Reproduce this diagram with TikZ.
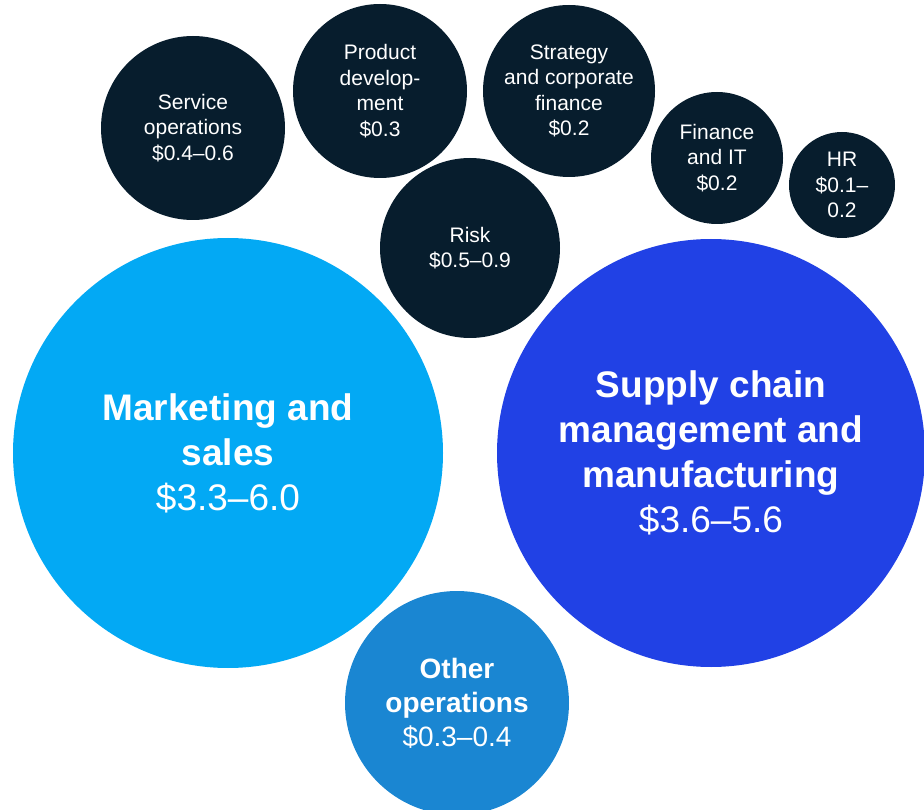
\documentclass[tikz,border=0pt]{standalone}
\usepackage{fontspec}
\setmainfont{Liberation Sans}
\definecolor{navy}{HTML}{071D2D}
\definecolor{skyblue}{HTML}{03A9F4}
\definecolor{royal}{HTML}{2141E5}
\definecolor{midblue}{HTML}{1A86D2}
\tikzset{x=1pt, y=-1pt, % pixel-like units, y downwards
bubble/.style={ % Sets the properties for each bubble
circle,
inner sep=0pt,
text=white,
align=center,
minimum size=#1},
smallbubble/.style={ % dark cost bubbles
bubble=#1,
fill=navy,
font=\fontsize{21}{25.5}\selectfont},
bigbubble/.style={ % the two large bubbles
bubble=#1,
font=\fontsize{37}{45}\selectfont}}

\begin{document}
\begin{tikzpicture}
	\useasboundingbox (0,0) rectangle (924,810);
	\node[smallbubble=184] (service) at (193,128) {Service\\operations\\\$0.4–0.6};
	\node[smallbubble=174] (product) at (380,91) {Product\\develop-\\ment\\\$0.3};
	\node[smallbubble=172] (strategy) at (569,91) {Strategy\\and corporate\\finance\\\$0.2};
	\node[smallbubble=132] (finance) at (717,158) {Finance\\and IT\\\$0.2};
	\node[smallbubble=106] (hr) at (842,185) {HR\\\$0.1–\\0.2};
	\node[smallbubble=180] (risk) at (470,248) {Risk\\\$0.5–0.9};
	\node[bigbubble=430, fill=skyblue] (marketing) at (228,453) {\textbf{Marketing and}\\\textbf{sales}\\\$3.3–6.0};
	\node[bigbubble=428, fill=royal] (supply) at (711,453) {\textbf{Supply chain}\\\textbf{management and}\\\textbf{manufacturing}\\\$3.6–5.6};
	\node[bubble=224, fill=midblue, font=\fontsize{28}{34}\selectfont] (other) at (457,703) {\textbf{Other}\\\textbf{operations}\\\$0.3–0.4};
\end{tikzpicture}
\end{document}
